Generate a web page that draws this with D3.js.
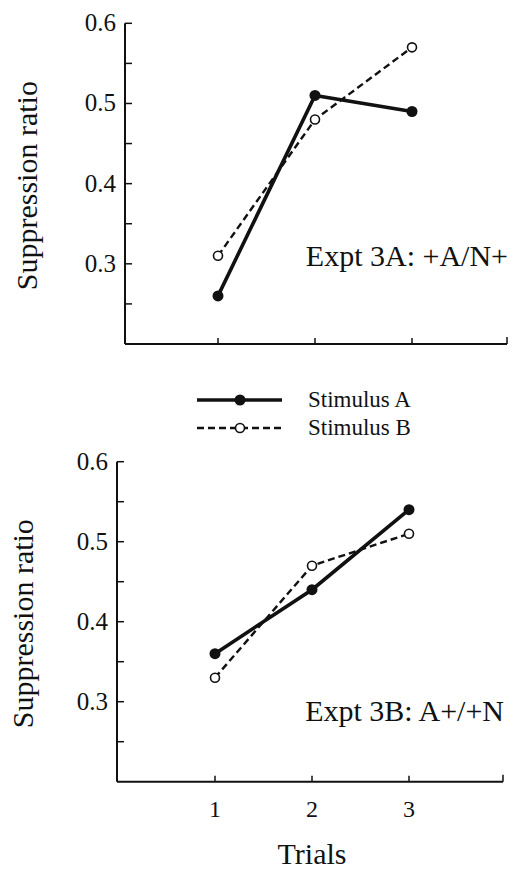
<!DOCTYPE html>
<html>
<head>
<meta charset="utf-8">
<script src="https://cdn.jsdelivr.net/npm/d3@7"></script>
<style>
 body{margin:0;background:#fff;}
</style>
</head>
<body>
<script>
// data
var trials=[1,2,3];
var yTicks=[0.3,0.4,0.5,0.6];
var yMinor=[0.25,0.35,0.45,0.55];
var expt3A_A=[0.26,0.51,0.49];
var expt3A_B=[0.31,0.48,0.57];
var expt3B_A=[0.36,0.44,0.54];
var expt3B_B=[0.33,0.47,0.51];
var panelLabels=["Expt 3A: +A/N+","Expt 3B: A+/+N"];
var seriesNames=["Stimulus A","Stimulus B"];

var svg=d3.select("body").append("svg").attr("width",513).attr("height",869)
 .attr("font-family","'Liberation Serif','DejaVu Serif','Times New Roman',serif").attr("fill","#111");

var panels=[
 {a:expt3A_A,b:expt3A_B,label:panelLabels[0],left:125,right:507,top:23.3,bottom:344,x1:218,x3:412,ylabX:27,showX:false},
 {a:expt3B_A,b:expt3B_B,label:panelLabels[1],left:117,right:503,top:461.7,bottom:781.7,x1:215,x3:409,ylabX:23,showX:true}
];

panels.forEach(function(p)
{
 var x=d3.scaleLinear().domain([1,3]).range([p.x1,p.x3]);
 var y=d3.scaleLinear().domain([0.2,0.6]).range([p.bottom,p.top]);
 var g=svg.append("g");

 // axes
 g.append("line").attr("x1",p.left).attr("x2",p.left).attr("y1",p.top).attr("y2",p.bottom).attr("stroke","#111").attr("stroke-width",2);
 g.append("line").attr("x1",p.left).attr("x2",p.right).attr("y1",p.bottom).attr("y2",p.bottom).attr("stroke","#111").attr("stroke-width",2);
 g.selectAll(".yt").data(yTicks.concat(yMinor)).enter().append("line")
  .attr("x1",p.left).attr("x2",p.left+7).attr("y1",function(d){return y(d);}).attr("y2",function(d){return y(d);})
  .attr("stroke","#111").attr("stroke-width",1.5);
 g.selectAll(".ytl").data(yTicks).enter().append("text")
  .attr("x",p.left-9).attr("y",function(d){return y(d)+8;}).attr("text-anchor","end")
  .style("font-size","25px").text(function(d){return d.toFixed(1);});
 g.selectAll(".xt").data(trials).enter().append("line")
  .attr("x1",function(d){return x(d);}).attr("x2",function(d){return x(d);})
  .attr("y1",p.bottom).attr("y2",p.bottom-6).attr("stroke","#111").attr("stroke-width",1.5);
 g.append("line").attr("x1",p.right).attr("x2",p.right).attr("y1",p.bottom).attr("y2",p.bottom-7).attr("stroke","#111").attr("stroke-width",1.5);
 if(p.showX)
 {
  g.selectAll(".xtl").data(trials).enter().append("text")
   .attr("x",function(d){return x(d);}).attr("y",p.bottom+35).attr("text-anchor","middle")
   .style("font-size","24px").text(function(d){return d;});
  g.append("text").attr("x",312).attr("y",864).attr("text-anchor","middle").style("font-size","30px").text("Trials");
 }
 g.append("text").attr("transform","translate("+(p.ylabX+10)+","+((p.top+p.bottom)/2+2)+") rotate(-90)")
  .attr("text-anchor","middle").style("font-size","30px").text("Suppression ratio");

 var line=d3.line().x(function(d,i){return x(trials[i]);}).y(function(d){return y(d);});
 g.append("path").datum(p.b).attr("d",line).attr("fill","none").attr("stroke","#111").attr("stroke-width",2.4).attr("stroke-dasharray","7,4");
 g.append("path").datum(p.a).attr("d",line).attr("fill","none").attr("stroke","#111").attr("stroke-width",3.6);
 g.selectAll(".pb").data(p.b).enter().append("circle")
  .attr("cx",function(d,i){return x(trials[i]);}).attr("cy",function(d){return y(d);}).attr("r",4.5)
  .attr("fill","#fff").attr("stroke","#111").attr("stroke-width",1.6);
 g.selectAll(".pa").data(p.a).enter().append("circle")
  .attr("cx",function(d,i){return x(trials[i]);}).attr("cy",function(d){return y(d);}).attr("r",5.5).attr("fill","#111");

 g.append("text").attr("x",p.right+1).attr("y",y(0.3)+(p.showX?19:2)).attr("text-anchor","end").style("font-size","30px").text(p.label);
});

// legend
var leg=svg.append("g");
var legY=[400,428];
leg.selectAll(".ll").data(seriesNames).enter().append("line")
 .attr("x1",197).attr("x2",282).attr("y1",function(d,i){return legY[i];}).attr("y2",function(d,i){return legY[i];})
 .attr("stroke","#111").attr("stroke-width",function(d,i){return i?2.4:3.6;}).attr("stroke-dasharray",function(d,i){return i?"7,4":null;});
leg.append("circle").attr("cx",240).attr("cy",legY[0]).attr("r",5.5).attr("fill","#111");
leg.append("circle").attr("cx",240).attr("cy",legY[1]).attr("r",4.5).attr("fill","#fff").attr("stroke","#111").attr("stroke-width",1.6);
leg.selectAll(".lt").data(seriesNames).enter().append("text")
 .attr("x",308).attr("y",function(d,i){return legY[i]+7;}).style("font-size","23px").text(function(d){return d;});
</script>
</body>
</html>
